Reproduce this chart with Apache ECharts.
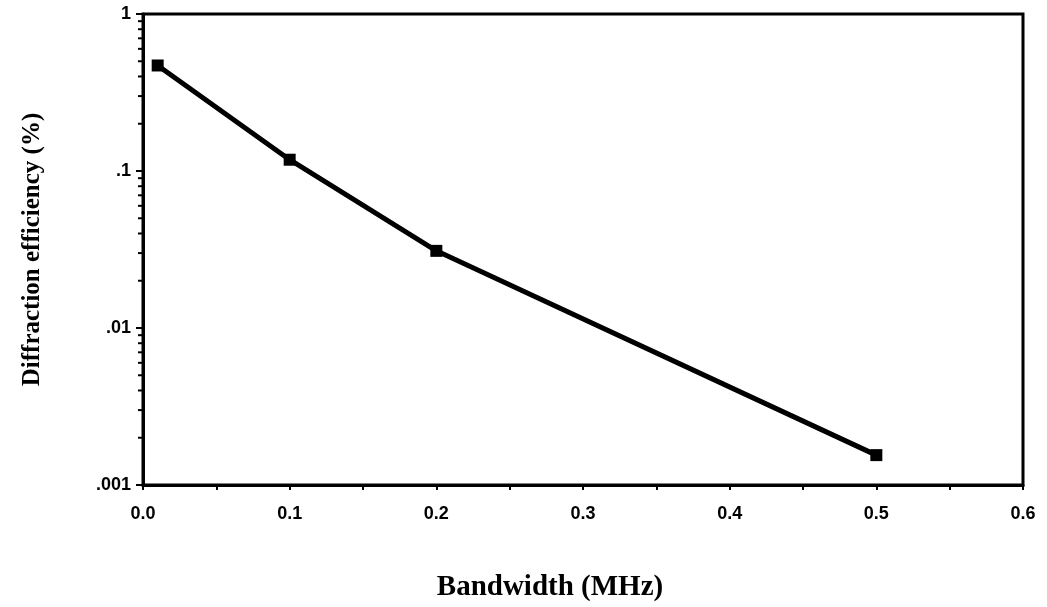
<!DOCTYPE html>
<html>
<head>
<meta charset="utf-8">
<script src="https://cdn.jsdelivr.net/npm/echarts@6/dist/echarts.min.js"></script>
<style>
html,body{margin:0;padding:0;background:#fff;}
#chart{width:1047px;height:607px;}
</style>
</head>
<body>
<div id="chart"></div>
<script>
// Data
var bandwidthMHz = [0.01, 0.1, 0.2, 0.5];
var diffractionEff = [0.47, 0.118, 0.031, 0.00155];
var xTickLabels = ['0.0', '0.1', '0.2', '0.3', '0.4', '0.5', '0.6'];
var yTickLabels = {0.001: '.001', 0.01: '.01', 0.1: '.1', 1: '1'};

var seriesData = bandwidthMHz.map(function (x, i) { return [x, diffractionEff[i]]; });

var chart = echarts.init(document.getElementById('chart'), null, {renderer: 'canvas'});
var tickFont = {fontFamily: 'Liberation Sans, Arial, sans-serif', fontSize: 18, fontWeight: 'bold', color: '#000'};

chart.setOption({
  animation: false,
  backgroundColor: '#fff',
  grid: {left: 143, right: 24, top: 14, bottom: 121, show: true, borderColor: '#000', borderWidth: 3, containLabel: false},
  xAxis: {
    type: 'value', min: 0, max: 0.6, interval: 0.1,
    name: 'Bandwidth (MHz)', nameLocation: 'middle', nameGap: 88,
    nameTextStyle: {fontFamily: 'Liberation Serif, Times New Roman, serif', fontSize: 29, fontWeight: 'bold', color: '#000', padding: [0, 66, 0, 0]},
    axisLine: {show: true, lineStyle: {color: '#000', width: 3}},
    axisTick: {show: true, length: 5, lineStyle: {color: '#000', width: 2}},
    minorTick: {show: true, splitNumber: 2, length: 5, lineStyle: {color: '#000', width: 2}},
    splitLine: {show: false},
    axisLabel: Object.assign({margin: 20, formatter: function (v) {
      var idx = Math.round(v * 10); return xTickLabels[idx] !== undefined ? xTickLabels[idx] : '';
    }}, tickFont)
  },
  yAxis: {
    type: 'log', logBase: 10, min: 0.001, max: 1,
    name: 'Diffraction efficiency (%)', nameLocation: 'middle', nameGap: 98,
    nameTextStyle: {fontFamily: 'Liberation Serif, Times New Roman, serif', fontSize: 25, fontWeight: 'bold', color: '#000'},
    axisLine: {show: true, lineStyle: {color: '#000', width: 3}},
    axisTick: {show: true, length: 7, lineStyle: {color: '#000', width: 2}},
    splitLine: {show: false},
    axisLabel: Object.assign({margin: 12, formatter: function (v) {
      var key = Number(v.toPrecision(3)); return yTickLabels[key] || '';
    }}, tickFont)
  },
  series: [{
    type: 'line', data: seriesData,
    lineStyle: {color: '#000', width: 5},
    itemStyle: {color: '#000'},
    symbol: 'rect', symbolSize: 12, showSymbol: true
  }]
});

// Logarithmic minor ticks (2..9 per decade) on the y axis, placed via the axis scale
var minorEls = [];
for (var d = -3; d < 0; d++) {
  for (var m = 2; m <= 9; m++) {
    var v = m * Math.pow(10, d);
    var py = chart.convertToPixel({yAxisIndex: 0}, v);
    var px = chart.convertToPixel({xAxisIndex: 0}, 0);
    minorEls.push({type: 'line', shape: {x1: px - 5, y1: py, x2: px, y2: py}, style: {stroke: '#000', lineWidth: 2}});
  }
}
chart.setOption({graphic: minorEls});
</script>
</body>
</html>
